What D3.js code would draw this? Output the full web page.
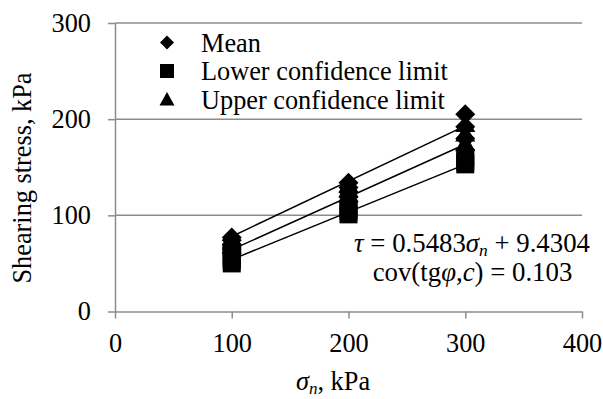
<!DOCTYPE html>
<html>
<head>
<meta charset="utf-8">
<script src="https://cdn.jsdelivr.net/npm/d3@7"></script>
<style>
  html, body { margin: 0; padding: 0; background: #fff; }
  svg text { font-family: "Liberation Serif", "DejaVu Serif", Times, serif; fill: #000; }
</style>
</head>
<body>
<div id="chart"></div>
<script>
// --- データ ---
const sigmaLevels = [100, 200, 300];
// 各σnでの試験値（Mean / Lower / Upper）
const meanValues  = [[62, 66, 70, 74, 77], [114, 119, 124, 129, 134], [168, 180, 192, 205]];
const lowerValues = [[50, 53, 56, 59], [101, 104, 107], [153, 156, 160]];
const upperValues = [[68, 72, 76], [122, 127, 132], [175, 185, 195]];
// 近似直線（端点）
const trendX     = [100, 300];
const meanTrend  = [64.3, 173.9];
const lowerTrend = [54, 153];
const upperTrend = [78, 193];

const xTicks = [0, 100, 200, 300, 400];
const yTicks = [0, 100, 200, 300];
const legendLabels = ["Mean", "Lower confidence limit", "Upper confidence limit"];

// --- 設定 ---
const W = 603, H = 399;
const FS = 26.3;
const FONT = "'Liberation Serif', 'DejaVu Serif', Times, serif";
const gridColor = "#8c8c8c";

const svg = d3.select("#chart").append("svg")
  .attr("width", W).attr("height", H);

const x = d3.scaleLinear().domain([0, 400]).range([115, 582]);
const y = d3.scaleLinear().domain([0, 300]).range([311.5, 23]);

// マーカー形状
function markerPath(type, s) {
  if (type === "diamond") return `M0,${-s}L${s},0L0,${s}L${-s},0Z`;
  if (type === "square") return `M${-s},${-s}H${s}V${s}H${-s}Z`;
  return `M0,${-s}L${s},${s * 0.8}L${-s},${s * 0.8}Z`;
}

function addText(sel, fs) {
  return sel.append("text").attr("font-family", FONT).style("font-family", FONT).style("font-size", (fs || FS) + "px");
}

// --- グリッド ---
svg.append("g").selectAll("line")
  .data(yTicks.filter(d => d > 0))
  .enter().append("line")
  .attr("x1", x(0)).attr("x2", x(400))
  .attr("y1", d => y(d)).attr("y2", d => y(d))
  .attr("stroke", gridColor).attr("stroke-width", 1.5);

// --- 軸 ---
const xAxis = svg.append("g")
  .attr("transform", `translate(0,${y(0)})`)
  .call(d3.axisBottom(x).tickValues(xTicks).tickSize(7).tickPadding(15).tickSizeOuter(0));
const yAxis = svg.append("g")
  .attr("transform", `translate(${x(0)},0)`)
  .call(d3.axisLeft(y).tickValues(yTicks).tickSize(7).tickPadding(17).tickSizeOuter(0));

[xAxis, yAxis].forEach(a => {
  a.attr("font-family", FONT).attr("font-size", FS);
  a.select(".domain").attr("stroke", gridColor).attr("stroke-width", 1.5);
  a.selectAll(".tick line").attr("stroke", gridColor).attr("stroke-width", 1.5);
  a.selectAll(".tick text")
    .style("font-family", FONT)
    .style("font-size", FS + "px").attr("fill", "#000");
});

// --- 近似直線 ---
const line = d3.line().x(d => x(d[0])).y(d => y(d[1]));
[meanTrend, lowerTrend, upperTrend].forEach(t => {
  svg.append("path")
    .datum(trendX.map((v, i) => [v, t[i]]))
    .attr("d", line)
    .attr("fill", "none").attr("stroke", "#000").attr("stroke-width", 1.5);
});

// --- 点 ---
const series = [
  { name: "lower", type: "square", size: 9, vals: lowerValues },
  { name: "upper", type: "triangle", size: 10, vals: upperValues },
  { name: "mean", type: "diamond", size: 10, vals: meanValues }
];
series.forEach(s => {
  const pts = [];
  s.vals.forEach((arr, i) => arr.forEach(v => pts.push([sigmaLevels[i], v])));
  svg.append("g").selectAll("path")
    .data(pts)
    .enter().append("path")
    .attr("transform", d => `translate(${x(d[0])},${y(d[1])})`)
    .attr("d", markerPath(s.type, s.size))
    .attr("fill", "#000");
});

// --- 凡例 ---
const legendTypes = ["diamond", "square", "triangle"];
const legendSizes = [7, 7, 7.5];
legendLabels.forEach((lab, i) => {
  const by = 51.5 + i * 28.5;
  svg.append("path")
    .attr("transform", `translate(167,${by - 9})`)
    .attr("d", markerPath(legendTypes[i], legendSizes[i]))
    .attr("fill", "#000");
  addText(svg).attr("x", 201).attr("y", by).text(lab);
});

// --- 式 ---
const EQ = 26.8;
const eq1 = addText(svg, EQ).attr("x", 472).attr("y", 252).attr("text-anchor", "middle");
eq1.append("tspan").style("font-style", "italic").text("τ");
eq1.append("tspan").text(" = 0.5483");
eq1.append("tspan").style("font-style", "italic").text("σ");
eq1.append("tspan").style("font-style", "italic").style("font-size", (EQ * 0.65) + "px").attr("dy", 4).text("n");
eq1.append("tspan").attr("dy", -4).text(" + 9.4304");

const eq2 = addText(svg, EQ).attr("x", 472.5).attr("y", 281).attr("text-anchor", "middle");
eq2.append("tspan").text("cov(tg");
eq2.append("tspan").style("font-style", "italic").text("φ");
eq2.append("tspan").text(",");
eq2.append("tspan").style("font-style", "italic").text("c");
eq2.append("tspan").text(") = 0.103");

// --- 軸タイトル ---
const xt = addText(svg).attr("x", 333).attr("y", 390).attr("text-anchor", "middle");
xt.append("tspan").style("font-style", "italic").text("σ");
xt.append("tspan").style("font-style", "italic").style("font-size", (FS * 0.65) + "px").attr("dy", 4).text("n");
xt.append("tspan").attr("dy", -4).text(", kPa");

addText(svg)
  .attr("transform", "translate(31,178) rotate(-90)")
  .attr("text-anchor", "middle")
  .text("Shearing stress, kPa");
</script>
</body>
</html>
